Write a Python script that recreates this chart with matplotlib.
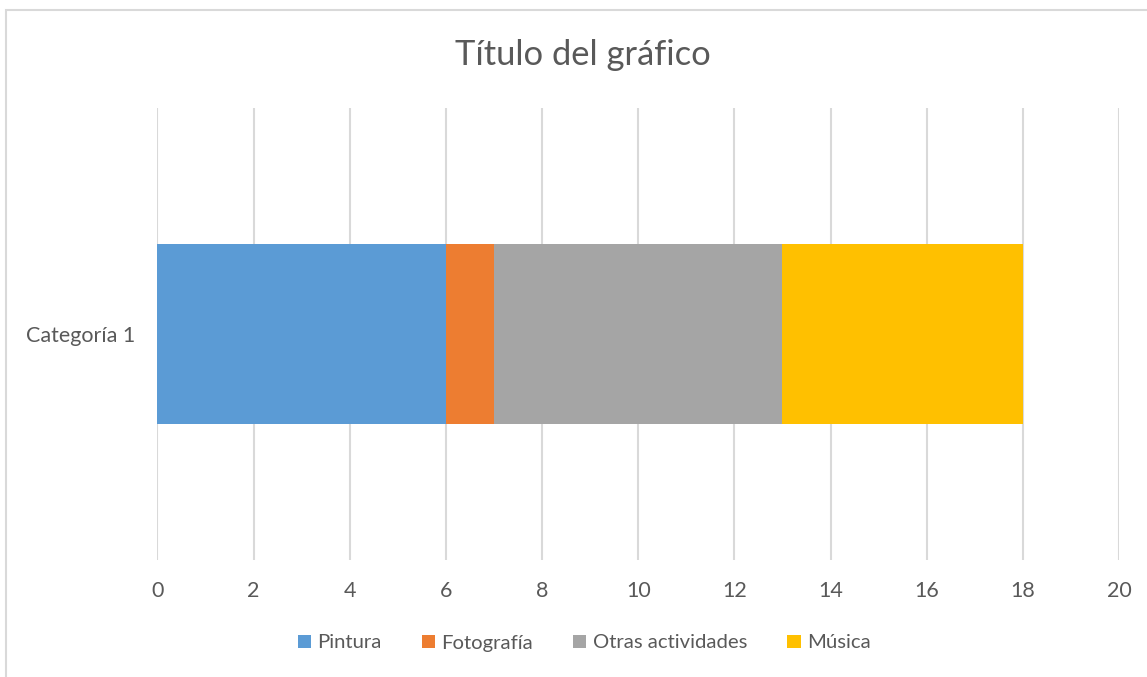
import matplotlib
matplotlib.use('agg')
import matplotlib.pyplot as plt
from matplotlib.patches import Rectangle

categories = ["Categoría 1"]
series = ["Pintura", "Fotografía", "Otras actividades", "Música"]
values = [[6], [1], [6], [5]]
colors = ["#5B9BD5", "#ED7D31", "#A5A5A5", "#FFC000"]
xticks = [0, 2, 4, 6, 8, 10, 12, 14, 16, 18, 20]

plt.rcParams['font.family'] = ['Lato', 'DejaVu Sans']
text_color = "#595959"

fig = plt.figure(figsize=(11.47, 6.77), dpi=100)
ax = fig.add_axes([0.1373, 0.1728, 0.8383, 0.6677])

# chart area border (only top and left visible in the crop)
fig.patches.append(Rectangle((6 / 1147, -0.1), 1.2, 1 - 10 / 677 + 0.1,
                             transform=fig.transFigure, fill=False,
                             edgecolor="#D9D9D9", linewidth=1.5))

left = [0] * len(categories)
for name, vals, col in zip(series, values, colors):
    ax.barh(categories, vals, left=left, height=0.4, color=col, label=name, zorder=3)
    left = [l + v for l, v in zip(left, vals)]

ax.set_xlim(0, 20)
ax.set_ylim(-0.5, 0.5)
ax.set_xticks(xticks)
ax.grid(axis='x', color="#D9D9D9", linewidth=1.5, zorder=0)
for s in ax.spines.values():
    s.set_visible(False)
ax.tick_params(axis='both', length=0, labelsize=15.5, colors=text_color)
ax.tick_params(axis='x', pad=15)
ax.tick_params(axis='y', pad=16)

fig.text(583 / 1147, 1 - 55 / 677, "Título del gráfico", ha='center', va='center',
         fontsize=24.8, color=text_color)

fig.legend(loc='center', bbox_to_anchor=(584 / 1147, 1 - 643 / 677), ncol=4, frameon=False,
           fontsize=14.6, labelcolor=text_color, handlelength=0.65, handleheight=0.65,
           handletextpad=0.3, columnspacing=2.0)

fig.savefig("out.png", dpi=100)
